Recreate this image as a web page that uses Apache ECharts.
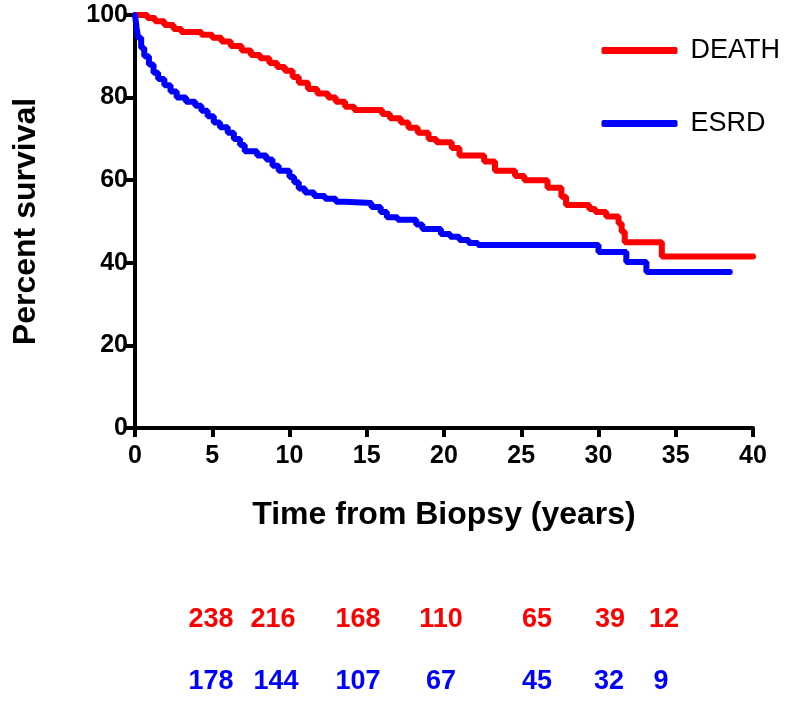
<!DOCTYPE html>
<html>
<head>
<meta charset="utf-8">
<script src="https://cdn.jsdelivr.net/npm/echarts@6/dist/echarts.min.js"></script>
<style>
  html, body { margin: 0; padding: 0; background: #fff; }
  #chart { width: 791px; height: 703px; }
</style>
</head>
<body>
<div id="chart"></div>
<script>
// Kaplan-Meier steps: [years, percent surviving from that time on]
const deathSteps = [
  [0, 100], [0.8, 99.3], [1.3, 98.5], [1.9, 97.6], [2.5, 96.6], [3.0, 95.9],
  [4.3, 95.2], [5.0, 94.5], [5.6, 93.6], [6.2, 92.5], [6.9, 91.4], [7.5, 90.3],
  [8.1, 89.5], [8.7, 88.4], [9.2, 87.4], [9.7, 86.5], [10.2, 85.0], [10.6, 83.6],
  [11.2, 82.1], [11.8, 81.0], [12.5, 80.0], [13.0, 79.0], [13.6, 77.8], [14.2, 77.0],
  [16.0, 76.0], [16.5, 75.0], [17.2, 74.0], [17.7, 72.7], [18.3, 71.5], [19.0, 70.0],
  [19.5, 69.2], [20.5, 67.8], [21.0, 66.0], [22.6, 64.5], [23.3, 62.3], [24.6, 61.0],
  [25.2, 60.0], [26.7, 58.2], [27.6, 56.0], [27.9, 54.0], [29.4, 53.0], [29.8, 52.3],
  [30.5, 51.2], [31.3, 49.5], [31.5, 47.5], [31.7, 45.0], [34.1, 41.5], [40, 41.5]
];
const esrdSteps = [
  [0, 100], [0.1, 97], [0.2, 94.5], [0.4, 92], [0.6, 90], [0.9, 88], [1.2, 86],
  [1.5, 84.5], [1.9, 83], [2.3, 81.5], [2.7, 80], [3.3, 79], [3.9, 78], [4.3, 76.8],
  [4.7, 75.5], [5.1, 74], [5.5, 72.8], [6.0, 71.5], [6.4, 70], [6.8, 68.5], [7.1, 67],
  [7.9, 66], [8.5, 65], [8.9, 63.5], [9.3, 62.3], [10.0, 60.8], [10.3, 59.5],
  [10.6, 58], [11.0, 57], [11.6, 56.2], [12.3, 55.5], [13.0, 54.8], [13.6, 54.5],
  [15.3, 53.5], [15.9, 52.3], [16.3, 51.0], [17.0, 50.4], [18.2, 49.3], [18.6, 48.2],
  [19.8, 47.0], [20.4, 46.3], [21.0, 45.5], [21.6, 44.8], [22.2, 44.3], [30.0, 42.6],
  [31.8, 40.2], [33.1, 37.8], [38.5, 37.8]
];
const seriesNames = ['DEATH', 'ESRD'];
const deathAtRisk = ['238', '216', '168', '110', '65', '39', '12'];
const esrdAtRisk = ['178', '144', '107', '67', '45', '32', '9'];

// where the at-risk numbers sit on the page
const deathRiskX = [211, 273, 358, 441, 537, 610, 664];
const esrdRiskX = [211, 276, 358, 441, 537, 609, 661];

const RED = '#ff0000';
const BLUE = '#0000ff';
const FONT = '"Liberation Sans", Arial, sans-serif';

const chart = echarts.init(document.getElementById('chart'));

const riskText = (labels, xs, y, color) => labels.map((t, i) => ({
  type: 'text',
  x: xs[i],
  y: y,
  style: {
    text: t,
    fill: color,
    font: 'bold 27px ' + FONT,
    textAlign: 'center',
    textVerticalAlign: 'middle'
  }
}));

chart.setOption({
  animation: false,
  backgroundColor: '#fff',
  grid: { left: 135, right: 38, top: 15, bottom: 275 },
  legend: {
    data: seriesNames,
    orient: 'vertical',
    right: 6,
    top: 32,
    itemGap: 46,
    itemWidth: 76,
    itemHeight: 7,
    icon: 'roundRect',
    textStyle: { fontFamily: FONT, fontSize: 27, color: '#000', padding: [0, 0, 0, 8] }
  },
  xAxis: {
    type: 'value',
    min: 0,
    max: 40,
    interval: 5,
    name: 'Time from Biopsy (years)',
    nameLocation: 'middle',
    nameGap: 71,
    nameTextStyle: { fontFamily: FONT, fontSize: 32, fontWeight: 'bold', color: '#000' },
    axisLine: { lineStyle: { color: '#000', width: 4 } },
    axisTick: { length: 9, lineStyle: { color: '#000', width: 4 } },
    axisLabel: { fontFamily: FONT, fontSize: 25, fontWeight: 'bold', color: '#000', margin: 16 },
    splitLine: { show: false }
  },
  yAxis: {
    type: 'value',
    min: 0,
    max: 100,
    interval: 20,
    name: 'Percent survival',
    nameLocation: 'middle',
    nameGap: 93,
    nameTextStyle: { fontFamily: FONT, fontSize: 32, fontWeight: 'bold', color: '#000' },
    axisLine: { show: true, lineStyle: { color: '#000', width: 4 } },
    axisTick: { show: true, length: 9, lineStyle: { color: '#000', width: 4 } },
    axisLabel: { fontFamily: FONT, fontSize: 25, fontWeight: 'bold', color: '#000', margin: 7 },
    splitLine: { show: false }
  },
  series: [
    {
      name: seriesNames[0],
      type: 'line',
      step: 'end',
      data: deathSteps,
      symbol: 'none',
      color: RED,
      lineStyle: { color: RED, width: 6, cap: 'round' },
      z: 3
    },
    {
      name: seriesNames[1],
      type: 'line',
      step: 'end',
      data: esrdSteps,
      symbol: 'none',
      color: BLUE,
      lineStyle: { color: BLUE, width: 6, cap: 'round' },
      z: 4
    }
  ],
  graphic: [
    ...riskText(deathAtRisk, deathRiskX, 620, RED),
    ...riskText(esrdAtRisk, esrdRiskX, 682, BLUE)
  ]
});
</script>
</body>
</html>
